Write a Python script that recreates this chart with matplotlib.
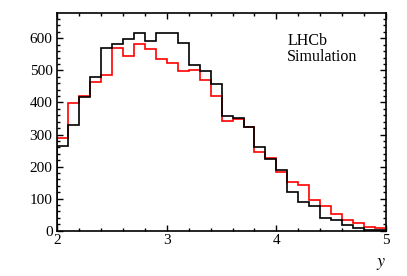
import numpy as np
import matplotlib
matplotlib.use("Agg")
import matplotlib.pyplot as plt
from matplotlib.ticker import MultipleLocator

# bin edges in y, 0.1 wide
edges = np.round(np.arange(2.0, 5.0001, 0.1), 2)

# black histogram
black_counts = [263, 330, 416, 478, 569, 581, 598, 615, 592, 615,
                615, 586, 517, 499, 456, 359, 350, 322, 260, 224,
                188, 122, 90, 76, 41, 35, 18, 7, 2, 1]
# red histogram
red_counts = [288, 399, 419, 463, 485, 569, 546, 581, 565, 535,
              524, 498, 501, 470, 421, 342, 348, 322, 244, 227,
              184, 153, 143, 97, 77, 51, 35, 23, 12, 7]

plt.rcParams['font.family'] = ['Liberation Serif', 'DejaVu Serif']
plt.rcParams['mathtext.fontset'] = 'stix'

fig = plt.figure(figsize=(4.07, 2.76), dpi=100)
ax = fig.add_axes([0.141, 0.164, 0.807, 0.788])

ax.stairs(red_counts, edges, color='#ff0000', linewidth=1.2)
ax.stairs(black_counts, edges, color='black', linewidth=1.2)

ax.set_xlim(2, 5)
ax.set_ylim(0, 678)
ax.xaxis.set_major_locator(MultipleLocator(1))
ax.xaxis.set_minor_locator(MultipleLocator(0.2))
ax.yaxis.set_major_locator(MultipleLocator(100))
ax.yaxis.set_minor_locator(MultipleLocator(20))
ax.tick_params(which='both', direction='in', top=True, right=True,
               labelsize=11, width=1.0)
ax.tick_params(which='major', length=4.5)
ax.tick_params(which='minor', length=2.2)
ax.tick_params(axis='x', which='major', pad=2)
ax.tick_params(axis='y', which='major', pad=3.5)
for s in ax.spines.values():
    s.set_linewidth(1.2)

ax.text(0.70, 0.91, 'LHCb\nSimulation', transform=ax.transAxes,
        fontsize=11.5, va='top', ha='left', linespacing=1.0)
ax.set_xlabel('$y$', fontsize=13)
ax.xaxis.set_label_coords(0.985, -0.11)

fig.savefig('out.png', dpi=100)
